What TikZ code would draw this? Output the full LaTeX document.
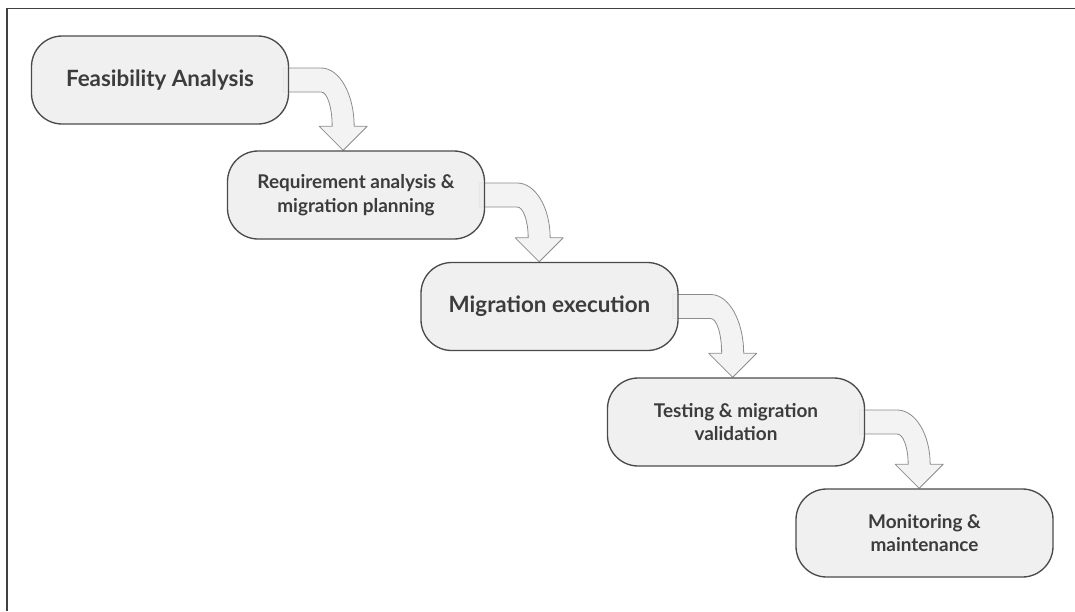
\documentclass[tikz,border=0pt]{standalone}
\usepackage{fontspec}
\setmainfont{Lato}
\usetikzlibrary{calc,backgrounds}
\definecolor{boxfill}{HTML}{EEEEEE}
\definecolor{boxline}{HTML}{4A4A4A}
\definecolor{arrowfill}{HTML}{F3F3F3}
\definecolor{arrowline}{HTML}{8C8C8C}
\definecolor{txt}{HTML}{3C3C3C}
\tikzset{
  stage/.style={draw=boxline, line width=1pt, fill=boxfill, rounded corners=23pt,
    minimum width=192.75pt, minimum height=66pt, align=center, text=txt,
    fill opacity=0.9, text opacity=1,
    font=\bfseries\fontsize{14.2}{17.6}\selectfont},
  bigstage/.style={stage, font=\bfseries\fontsize{16.8}{20}\selectfont},
  flow/.style={fill=arrowfill, draw=arrowline, line width=0.6pt, line join=round},
  frame/.style={draw=black!75, line width=1.1pt}
}
% bent arrow: leaves box #1 to the right, turns down onto box #2
\newcommand\bentarrow[2]{%
  \path[flow] let \p1=(#1.east), \p2=(#2.north),
      \n1={\y1+9pt-(\y2)-18pt}, \n2={\y1-9pt-(\y2)-18pt} in
    (\x1-4.5pt,\y1+9pt) -- (\x1+24pt,\y1+9pt)
    arc[start angle=90, end angle=0, x radius=24.75pt, y radius=\n1]
    -- (\x1+58.5pt,\y2+18pt) -- (\x1+40.5pt,\y2) -- (\x1+22.5pt,\y2+18pt)
    -- (\x1+32.25pt,\y2+18pt)
    arc[start angle=0, end angle=90, x radius=8.25pt, y radius=\n2]
    -- (\x1-4.5pt,\y1-9pt) -- cycle;}
\begin{document}
\begin{tikzpicture}[x=0.75pt, y=-0.75pt]
\useasboundingbox (0,0) rectangle (1075,611);
\draw[frame] (7,611) -- (7,8.5) -- (1075,8.5);

\node[bigstage] (s1) at (160,80) {Feasibility Analysis};
\node[stage] (s2) at (356,195) {Requirement analysis \&\\migration planning};
\node[bigstage] (s3) at (549.5,306.5) {Migration execution};
\node[stage] (s4) at (736,422) {Testing \& migration\\validation};
\node[stage] (s5) at (924.5,533) {Monitoring \&\\maintenance};

\begin{scope}[on background layer]
  \bentarrow{s1}{s2}
  \bentarrow{s2}{s3}
  \bentarrow{s3}{s4}
  \bentarrow{s4}{s5}
\end{scope}
\end{tikzpicture}
\end{document}
